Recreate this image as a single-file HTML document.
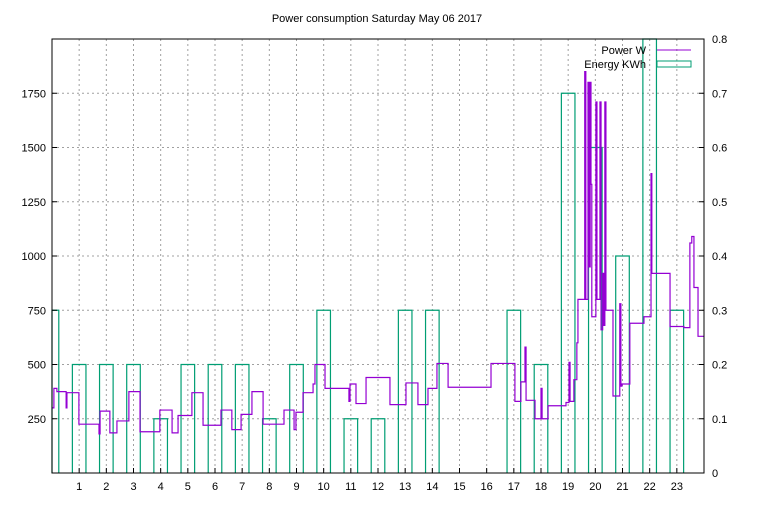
<!DOCTYPE html>
<html><head><meta charset="utf-8"><style>
body{margin:0;background:#fff}
svg text{font-family:"Liberation Sans","DejaVu Sans",sans-serif;font-size:11px;fill:#000}
</style></head><body>
<svg id="chart" width="768" height="500" xmlns="http://www.w3.org/2000/svg">
<rect width="768" height="500" fill="#fff"/>
<text x="377" y="22" text-anchor="middle">Power consumption Saturday May 06 2017</text>
<g id="grid"></g>
<g id="energy"></g>
<g id="power"></g>
<rect x="52" y="39" width="652" height="434" fill="none" stroke="#000" stroke-width="1"/>
<g id="axes"></g>
<g>
<text x="646" y="54" text-anchor="end">Power W</text>
<line x1="657" y1="50" x2="691" y2="50" stroke="#9400d3" stroke-width="1"/>
<text x="646" y="68" text-anchor="end">Energy KWh</text>
<rect x="657" y="61" width="34" height="6" fill="none" stroke="#009e73" stroke-width="1"/>
</g>
</svg>
<script>
const hours=[0,1,2,3,4,5,6,7,8,9,10,11,12,13,14,15,16,17,18,19,20,21,22,23];
const energy=[0.3,0.2,0.2,0.2,0.1,0.2,0.2,0.2,0.1,0.2,0.3,0.1,0.1,0.3,0.3,0,0,0.3,0.2,0.7,0.6,0.4,0.9,0.3];
const powerT=[0,0.07,0.18,0.52,0.55,0.99,1.73,1.77,2.13,2.39,2.83,3.24,3.97,4.42,4.64,5.15,5.56,6.22,6.62,6.96,7.36,7.77,8.54,8.91,8.98,9.24,9.61,9.68,10.05,10.93,10.97,11.19,11.56,12.44,13.03,13.47,13.84,14.17,14.58,16.16,17.04,17.26,17.41,17.45,17.78,18.0,18.04,18.26,18.92,19.03,19.07,19.21,19.32,19.36,19.61,19.65,19.73,19.77,19.81,19.84,19.87,20.02,20.06,20.17,20.21,20.27,20.31,20.35,20.39,20.65,20.90,20.94,20.98,21.27,21.79,22.05,22.08,22.75,23.26,23.48,23.55,23.63,23.78,24];
const powerW=[300,390,375,300,370,225,180,285,185,240,375,190,290,185,265,370,220,290,200,270,375,225,290,200,280,370,410,500,390,330,410,320,440,315,415,315,390,505,395,505,330,420,580,335,250,390,250,310,325,510,330,430,600,800,1850,800,1800,950,1800,1330,720,1710,800,1710,660,920,680,1710,750,355,780,400,410,690,720,1380,920,675,670,1060,1090,855,630,630];
const yTicks=[250,500,750,1000,1250,1500,1750];
const y2Ticks=["0","0.1","0.2","0.3","0.4","0.5","0.6","0.7","0.8"];
const xTicks=[1,2,3,4,5,6,7,8,9,10,11,12,13,14,15,16,17,18,19,20,21,22,23];
const L=52,R=704,T=39,B=473;
const xs=t=>L+(R-L)*t/24;
const ys=w=>B-(B-T)*w/2000;
const ye=e=>B-(B-T)*e/0.8;
const NS="http://www.w3.org/2000/svg";
function mk(tag,attrs,parent){const e=document.createElementNS(NS,tag);for(const k in attrs)e.setAttribute(k,attrs[k]);parent.appendChild(e);return e;}
const grid=document.getElementById('grid'),axes=document.getElementById('axes');
yTicks.forEach(v=>{
 const g=mk('line',{x1:L,x2:R,y1:ys(v),y2:ys(v),stroke:'#a0a0a0','stroke-dasharray':'2,3'},grid);
 
 
 const t=mk('text',{x:L-6,y:ys(v)+4,'text-anchor':'end'},axes);t.textContent=v;
 
 
 mk('line',{x1:L,x2:L+5,y1:ys(v),y2:ys(v),stroke:'#000'},axes);
});
y2Ticks.forEach((s,i)=>{
 const v=i*0.1;
 const t=mk('text',{x:R+8,y:ye(v)+4},axes);t.textContent=s;
 
 
 mk('line',{x1:R-5,x2:R,y1:ye(v),y2:ye(v),stroke:'#000'},axes);
});
xTicks.forEach(h=>{
 const g=mk('line',{x1:xs(h),x2:xs(h),y1:T,y2:B,stroke:'#a0a0a0','stroke-dasharray':'2,3'},grid);
 
 
 const t=mk('text',{x:xs(h),y:B+17,'text-anchor':'middle'},axes);t.textContent=h;
 
 
 mk('line',{x1:xs(h),x2:xs(h),y1:B-5,y2:B,stroke:'#000'},axes);
});
const eg=document.getElementById('energy');
hours.forEach((h,i)=>{
 const x0=Math.max(L,xs(h-0.25)),x1=xs(h+0.25),y=Math.max(T,ye(energy[i]));
 if(energy[i]<=0)return;
 const p=mk('path',{d:`M${x0},${B}V${y}H${x1}V${B}`,fill:'none',stroke:'#009e73','stroke-width':1.2},eg);
 
 
});
let d=`M${xs(powerT[0])},${ys(powerW[0])}`;
for(let i=1;i<powerT.length;i++){d+=`H${xs(powerT[i])}V${Math.max(T,ys(powerW[i]))}`;}
const pl=mk('path',{d:d,fill:'none',stroke:'#9400d3','stroke-width':1.2},document.getElementById('power'));


</script>
</body></html>
